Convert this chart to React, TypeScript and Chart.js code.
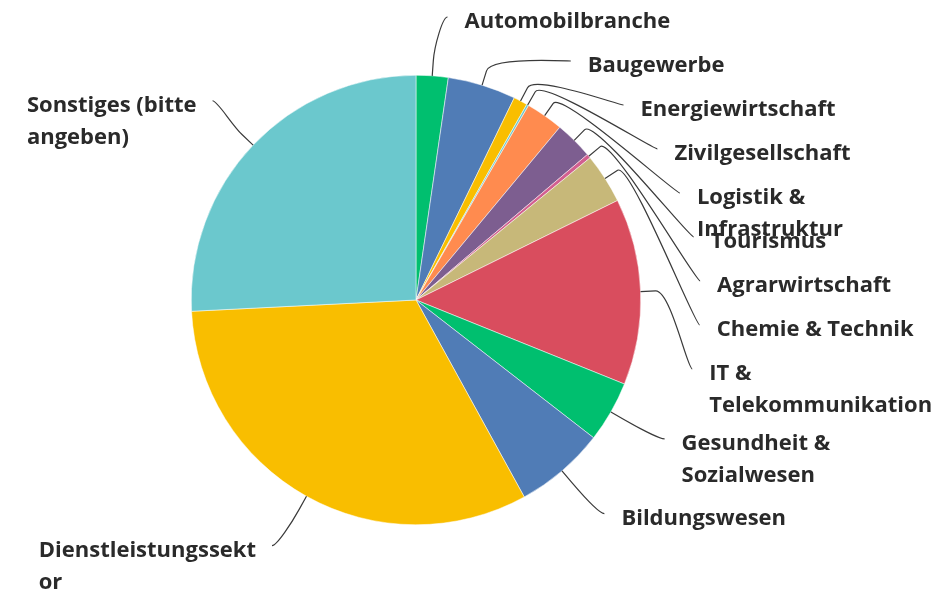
import React, { useEffect, useRef } from "react";
import { Chart, registerables } from "chart.js";

Chart.register(...registerables);

const categories: string[][] = [
  ["Automobilbranche"],
  ["Baugewerbe"],
  ["Energiewirtschaft"],
  ["Zivilgesellschaft"],
  ["Logistik &", "Infrastruktur"],
  ["Tourismus"],
  ["Agrarwirtschaft"],
  ["Chemie & Technik"],
  ["IT &", "Telekommunikation"],
  ["Gesundheit &", "Sozialwesen"],
  ["Bildungswesen"],
  ["Dienstleistungssekt", "or"],
  ["Sonstiges (bitte", "angeben)"],
];

const shares: number[] = [2.3, 4.9, 1.0, 0.15, 2.7, 2.75, 0.3, 3.6, 13.4, 4.4, 6.5, 32.2, 25.8];

const colors: string[] = [
  "#00BF6F",
  "#507CB6",
  "#F9BE00",
  "#6BC8CD",
  "#FF8B4F",
  "#7D5E90",
  "#D25F90",
  "#C7B879",
  "#D94D5E",
  "#00BF6F",
  "#507CB6",
  "#F9BE00",
  "#6BC8CD",
];

const FONT = "bold 22px 'Open Sans'";
const TEXT_COLOR = "#2a2a2a";
const LINE_H = 32;
const SLOT = 44;
const LABEL_DIST = 60;
const BREAK_DIST = 15;
const TOP_BOUND = 20;

const outLabels = {
  id: "outLabels",
  afterDatasetsDraw(chart: any) {
    const ctx: CanvasRenderingContext2D = chart.ctx;
    const meta = chart.getDatasetMeta(0);
    const labels = chart.data.labels as string[][];
    const items = meta.data.map((arc: any, i: number) => {
      const p = arc.getProps(["x", "y", "startAngle", "endAngle", "outerRadius"], true);
      const mid = (p.startAngle + p.endAngle) / 2;
      const cos = Math.cos(mid);
      const sin = Math.sin(mid);
      const R = p.outerRadius + LABEL_DIST;
      return {
        i,
        cx: p.x,
        cy: p.y,
        r: p.outerRadius,
        R,
        cos,
        sin,
        right: cos >= 0,
        natural: p.y + sin * R,
        y: 0,
        lines: labels[i],
      };
    });
    const place = (list: any[]) => {
      list.sort((a, b) => a.natural - b.natural);
      let prev = -Infinity;
      for (const it of list) {
        it.y = Math.max(it.natural, prev + SLOT, TOP_BOUND);
        prev = it.y;
      }
    };
    place(items.filter((it: any) => it.right));
    place(items.filter((it: any) => !it.right));

    ctx.save();
    ctx.font = FONT;
    for (const it of items) {
      const ey = it.y - 3;
      const dy = ey - it.cy;
      const dx = Math.sqrt(Math.max(it.R * it.R - dy * dy, 0));
      const ex = it.right ? it.cx + dx : it.cx - dx;
      const tx = it.cx + it.cos * it.r;
      const ty = it.cy + it.sin * it.r;
      const bx = it.cx + it.cos * (it.r + BREAK_DIST);
      const by = it.cy + it.sin * (it.r + BREAK_DIST);
      ctx.beginPath();
      ctx.moveTo(ex, ey);
      ctx.bezierCurveTo(ex + (it.right ? -5 : 5), ey, 2 * bx - tx, 2 * by - ty, bx, by);
      ctx.lineTo(tx, ty);
      ctx.strokeStyle = "#3a3a3a";
      ctx.lineWidth = 1.2;
      ctx.stroke();

      const widths = it.lines.map((l: string) => ctx.measureText(l).width);
      const maxW = Math.max(...widths);
      const lx = it.right ? ex + 17 : ex - 16 - maxW;
      ctx.fillStyle = TEXT_COLOR;
      ctx.textAlign = "left";
      ctx.textBaseline = "alphabetic";
      it.lines.forEach((l: string, k: number) => {
        ctx.fillText(l, lx, it.y + 8 + k * LINE_H);
      });
    }
    ctx.restore();
  },
};

export default function App() {
  const ref = useRef<HTMLCanvasElement | null>(null);
  useEffect(() => {
    if (!ref.current) return;
    const chart = new Chart(ref.current, {
      type: "pie",
      data: {
        labels: categories,
        datasets: [
          {
            data: shares,
            backgroundColor: colors,
            borderColor: "#ffffff",
            borderWidth: 0.5,
          },
        ],
      },
      options: {
        responsive: false,
        animation: false,
        layout: { padding: { top: 75, bottom: 64, left: 191, right: 300 } },
        plugins: {
          legend: { display: false },
          tooltip: { enabled: false },
        },
      },
      plugins: [outLabels],
    });
    return () => chart.destroy();
  }, []);
  return (
    <div style={{ position: "absolute", left: 0, top: 0, width: 941, height: 589, background: "#fff" }}>
      <canvas ref={ref} width={941} height={589} style={{ display: "block" }} />
    </div>
  );
}
